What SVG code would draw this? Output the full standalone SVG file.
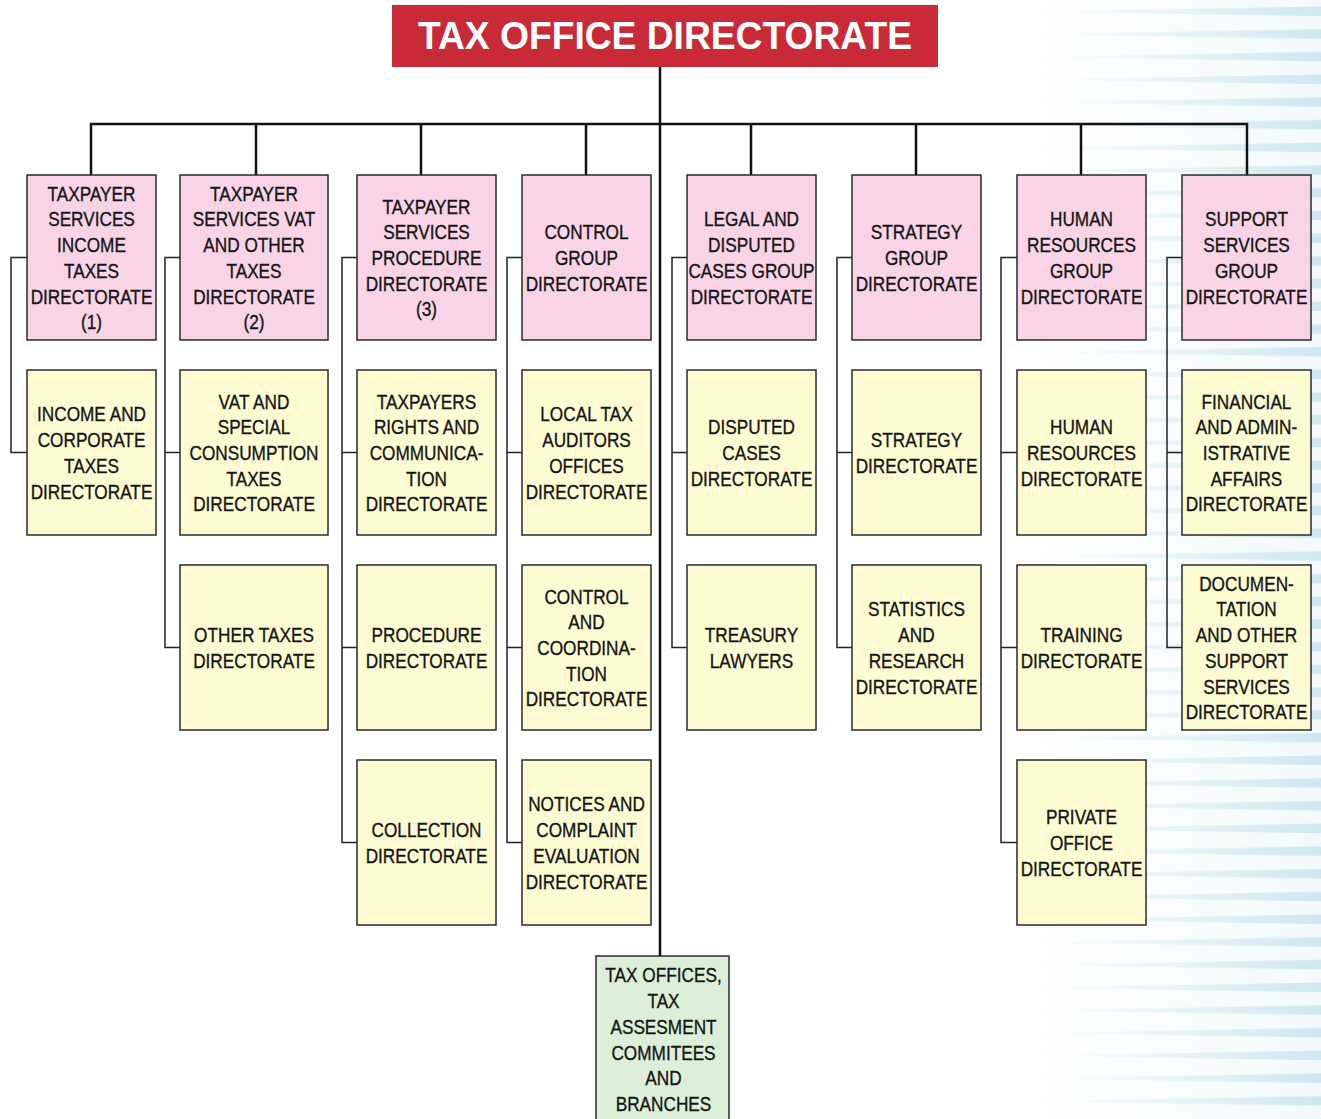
<svg xmlns="http://www.w3.org/2000/svg" width="1321" height="1119" viewBox="0 0 1321 1119">
<style>
.bx{stroke:#2a2a2a;stroke-width:1.5}
.pk{fill:#F8D4E6}
.yl{fill:#FEFBD3}
.gr{fill:#DDEFD9}
.t{font-family:"Liberation Sans",Arial,sans-serif;font-size:21px;fill:#151515;stroke:#151515;stroke-width:0.35;text-anchor:middle}
.main{stroke:#111;stroke-width:2.5;fill:none}
.side{stroke:#222;stroke-width:1.5;fill:none}
</style>
<defs>
<pattern id="stripes" x="1030" y="0" width="291" height="22.7" patternUnits="userSpaceOnUse">
<polygon points="0,11.5 291,6.5 291,16" fill="#CFE8F0"/>
</pattern>
<linearGradient id="fadeG" gradientUnits="userSpaceOnUse" x1="1030" y1="0" x2="1321" y2="0">
<stop offset="0" stop-color="#000"/>
<stop offset="0.4" stop-color="#666"/>
<stop offset="1" stop-color="#fff"/>
</linearGradient>
<mask id="fadeM" maskUnits="userSpaceOnUse" x="1000" y="0" width="321" height="1119">
<rect x="1000" y="0" width="321" height="1119" fill="url(#fadeG)"/>
</mask>
</defs>
<rect x="0" y="0" width="1321" height="1119" fill="#fff"/>
<g id="background" mask="url(#fadeM)">
<rect x="1030" y="0" width="291" height="1119" fill="#F3F9FB"/>
<rect x="1030" y="0" width="291" height="1119" fill="url(#stripes)"/>
</g>

<g id="connectors">
<path class="main" d="M660 67V956"/>
<path class="main" d="M91 175V124H1247V175"/>
<path class="main" d="M256 124V175M421 124V175M586 124V175M751 124V175M916 124V175M1081 124V175"/>
<path class="side" d="M27 257.5H11V452.5H27"/>
<path class="side" d="M180 257.5H165V647.5H180M165 452.5H180"/>
<path class="side" d="M357 257.5H342V842.5H357M342 452.5H357M342 647.5H357"/>
<path class="side" d="M522 257.5H507V842.5H522M507 452.5H522M507 647.5H522"/>
<path class="side" d="M687 257.5H672V647.5H687M672 452.5H687"/>
<path class="side" d="M852 257.5H837V647.5H852M837 452.5H852"/>
<path class="side" d="M1017 257.5H1001V842.5H1017M1001 452.5H1017M1001 647.5H1017"/>
<path class="side" d="M1182 257.5H1167V647.5H1182M1167 452.5H1182"/>
</g>

<g id="title">
<rect x="392" y="5" width="546" height="62" fill="#C82A37"/>
<text x="665" y="49" font-family="Liberation Sans,Arial,sans-serif" font-weight="bold" font-size="38" fill="#fff" text-anchor="middle" textLength="494" lengthAdjust="spacingAndGlyphs">TAX OFFICE DIRECTORATE</text>
</g>

<!-- Row 1 -->
<g id="n1_1"><rect class="bx pk" x="27" y="175" width="129" height="165"/>
<text class="t" transform="translate(91.5 0) scale(0.82 1)"><tspan x="0" y="200.75">TAXPAYER</tspan><tspan x="0" dy="25.7">SERVICES</tspan><tspan x="0" dy="25.7">INCOME</tspan><tspan x="0" dy="25.7">TAXES</tspan><tspan x="0" dy="25.7">DIRECTORATE</tspan><tspan x="0" dy="25.7">(1)</tspan></text></g>
<g id="n1_2"><rect class="bx pk" x="180" y="175" width="148" height="165"/>
<text class="t" transform="translate(254 0) scale(0.82 1)"><tspan x="0" y="200.75">TAXPAYER</tspan><tspan x="0" dy="25.7">SERVICES VAT</tspan><tspan x="0" dy="25.7">AND OTHER</tspan><tspan x="0" dy="25.7">TAXES</tspan><tspan x="0" dy="25.7">DIRECTORATE</tspan><tspan x="0" dy="25.7">(2)</tspan></text></g>
<g id="n1_3"><rect class="bx pk" x="357" y="175" width="139" height="165"/>
<text class="t" transform="translate(426.5 0) scale(0.82 1)"><tspan x="0" y="213.6">TAXPAYER</tspan><tspan x="0" dy="25.7">SERVICES</tspan><tspan x="0" dy="25.7">PROCEDURE</tspan><tspan x="0" dy="25.7">DIRECTORATE</tspan><tspan x="0" dy="25.7">(3)</tspan></text></g>
<g id="n1_4"><rect class="bx pk" x="522" y="175" width="129" height="165"/>
<text class="t" transform="translate(586.5 0) scale(0.82 1)"><tspan x="0" y="239.3">CONTROL</tspan><tspan x="0" dy="25.7">GROUP</tspan><tspan x="0" dy="25.7">DIRECTORATE</tspan></text></g>
<g id="n1_5"><rect class="bx pk" x="687" y="175" width="129" height="165"/>
<text class="t" transform="translate(751.5 0) scale(0.82 1)"><tspan x="0" y="226.45">LEGAL AND</tspan><tspan x="0" dy="25.7">DISPUTED</tspan><tspan x="0" dy="25.7">CASES GROUP</tspan><tspan x="0" dy="25.7">DIRECTORATE</tspan></text></g>
<g id="n1_6"><rect class="bx pk" x="852" y="175" width="129" height="165"/>
<text class="t" transform="translate(916.5 0) scale(0.82 1)"><tspan x="0" y="239.3">STRATEGY</tspan><tspan x="0" dy="25.7">GROUP</tspan><tspan x="0" dy="25.7">DIRECTORATE</tspan></text></g>
<g id="n1_7"><rect class="bx pk" x="1017" y="175" width="129" height="165"/>
<text class="t" transform="translate(1081.5 0) scale(0.82 1)"><tspan x="0" y="226.45">HUMAN</tspan><tspan x="0" dy="25.7">RESOURCES</tspan><tspan x="0" dy="25.7">GROUP</tspan><tspan x="0" dy="25.7">DIRECTORATE</tspan></text></g>
<g id="n1_8"><rect class="bx pk" x="1182" y="175" width="129" height="165"/>
<text class="t" transform="translate(1246.5 0) scale(0.82 1)"><tspan x="0" y="226.45">SUPPORT</tspan><tspan x="0" dy="25.7">SERVICES</tspan><tspan x="0" dy="25.7">GROUP</tspan><tspan x="0" dy="25.7">DIRECTORATE</tspan></text></g>

<!-- Row 2 -->
<g id="n2_1"><rect class="bx yl" x="27" y="370" width="129" height="165"/>
<text class="t" transform="translate(91.5 0) scale(0.82 1)"><tspan x="0" y="421.45">INCOME AND</tspan><tspan x="0" dy="25.7">CORPORATE</tspan><tspan x="0" dy="25.7">TAXES</tspan><tspan x="0" dy="25.7">DIRECTORATE</tspan></text></g>
<g id="n2_2"><rect class="bx yl" x="180" y="370" width="148" height="165"/>
<text class="t" transform="translate(254 0) scale(0.82 1)"><tspan x="0" y="408.6">VAT AND</tspan><tspan x="0" dy="25.7">SPECIAL</tspan><tspan x="0" dy="25.7">CONSUMPTION</tspan><tspan x="0" dy="25.7">TAXES</tspan><tspan x="0" dy="25.7">DIRECTORATE</tspan></text></g>
<g id="n2_3"><rect class="bx yl" x="357" y="370" width="139" height="165"/>
<text class="t" transform="translate(426.5 0) scale(0.82 1)"><tspan x="0" y="408.6">TAXPAYERS</tspan><tspan x="0" dy="25.7">RIGHTS AND</tspan><tspan x="0" dy="25.7">COMMUNICA-</tspan><tspan x="0" dy="25.7">TION</tspan><tspan x="0" dy="25.7">DIRECTORATE</tspan></text></g>
<g id="n2_4"><rect class="bx yl" x="522" y="370" width="129" height="165"/>
<text class="t" transform="translate(586.5 0) scale(0.82 1)"><tspan x="0" y="421.45">LOCAL TAX</tspan><tspan x="0" dy="25.7">AUDITORS</tspan><tspan x="0" dy="25.7">OFFICES</tspan><tspan x="0" dy="25.7">DIRECTORATE</tspan></text></g>
<g id="n2_5"><rect class="bx yl" x="687" y="370" width="129" height="165"/>
<text class="t" transform="translate(751.5 0) scale(0.82 1)"><tspan x="0" y="434.3">DISPUTED</tspan><tspan x="0" dy="25.7">CASES</tspan><tspan x="0" dy="25.7">DIRECTORATE</tspan></text></g>
<g id="n2_6"><rect class="bx yl" x="852" y="370" width="129" height="165"/>
<text class="t" transform="translate(916.5 0) scale(0.82 1)"><tspan x="0" y="447.15">STRATEGY</tspan><tspan x="0" dy="25.7">DIRECTORATE</tspan></text></g>
<g id="n2_7"><rect class="bx yl" x="1017" y="370" width="129" height="165"/>
<text class="t" transform="translate(1081.5 0) scale(0.82 1)"><tspan x="0" y="434.3">HUMAN</tspan><tspan x="0" dy="25.7">RESOURCES</tspan><tspan x="0" dy="25.7">DIRECTORATE</tspan></text></g>
<g id="n2_8"><rect class="bx yl" x="1182" y="370" width="129" height="165"/>
<text class="t" transform="translate(1246.5 0) scale(0.82 1)"><tspan x="0" y="408.6">FINANCIAL</tspan><tspan x="0" dy="25.7">AND ADMIN-</tspan><tspan x="0" dy="25.7">ISTRATIVE</tspan><tspan x="0" dy="25.7">AFFAIRS</tspan><tspan x="0" dy="25.7">DIRECTORATE</tspan></text></g>

<!-- Row 3 -->
<g id="n3_2"><rect class="bx yl" x="180" y="565" width="148" height="165"/>
<text class="t" transform="translate(254 0) scale(0.82 1)"><tspan x="0" y="642.15">OTHER TAXES</tspan><tspan x="0" dy="25.7">DIRECTORATE</tspan></text></g>
<g id="n3_3"><rect class="bx yl" x="357" y="565" width="139" height="165"/>
<text class="t" transform="translate(426.5 0) scale(0.82 1)"><tspan x="0" y="642.15">PROCEDURE</tspan><tspan x="0" dy="25.7">DIRECTORATE</tspan></text></g>
<g id="n3_4"><rect class="bx yl" x="522" y="565" width="129" height="165"/>
<text class="t" transform="translate(586.5 0) scale(0.82 1)"><tspan x="0" y="603.6">CONTROL</tspan><tspan x="0" dy="25.7">AND</tspan><tspan x="0" dy="25.7">COORDINA-</tspan><tspan x="0" dy="25.7">TION</tspan><tspan x="0" dy="25.7">DIRECTORATE</tspan></text></g>
<g id="n3_5"><rect class="bx yl" x="687" y="565" width="129" height="165"/>
<text class="t" transform="translate(751.5 0) scale(0.82 1)"><tspan x="0" y="642.15">TREASURY</tspan><tspan x="0" dy="25.7">LAWYERS</tspan></text></g>
<g id="n3_6"><rect class="bx yl" x="852" y="565" width="129" height="165"/>
<text class="t" transform="translate(916.5 0) scale(0.82 1)"><tspan x="0" y="616.45">STATISTICS</tspan><tspan x="0" dy="25.7">AND</tspan><tspan x="0" dy="25.7">RESEARCH</tspan><tspan x="0" dy="25.7">DIRECTORATE</tspan></text></g>
<g id="n3_7"><rect class="bx yl" x="1017" y="565" width="129" height="165"/>
<text class="t" transform="translate(1081.5 0) scale(0.82 1)"><tspan x="0" y="642.15">TRAINING</tspan><tspan x="0" dy="25.7">DIRECTORATE</tspan></text></g>
<g id="n3_8"><rect class="bx yl" x="1182" y="565" width="129" height="165"/>
<text class="t" transform="translate(1246.5 0) scale(0.82 1)"><tspan x="0" y="590.75">DOCUMEN-</tspan><tspan x="0" dy="25.7">TATION</tspan><tspan x="0" dy="25.7">AND OTHER</tspan><tspan x="0" dy="25.7">SUPPORT</tspan><tspan x="0" dy="25.7">SERVICES</tspan><tspan x="0" dy="25.7">DIRECTORATE</tspan></text></g>

<!-- Row 4 -->
<g id="n4_3"><rect class="bx yl" x="357" y="760" width="139" height="165"/>
<text class="t" transform="translate(426.5 0) scale(0.82 1)"><tspan x="0" y="837.15">COLLECTION</tspan><tspan x="0" dy="25.7">DIRECTORATE</tspan></text></g>
<g id="n4_4"><rect class="bx yl" x="522" y="760" width="129" height="165"/>
<text class="t" transform="translate(586.5 0) scale(0.82 1)"><tspan x="0" y="811.45">NOTICES AND</tspan><tspan x="0" dy="25.7">COMPLAINT</tspan><tspan x="0" dy="25.7">EVALUATION</tspan><tspan x="0" dy="25.7">DIRECTORATE</tspan></text></g>
<g id="n4_7"><rect class="bx yl" x="1017" y="760" width="129" height="165"/>
<text class="t" transform="translate(1081.5 0) scale(0.82 1)"><tspan x="0" y="824.3">PRIVATE</tspan><tspan x="0" dy="25.7">OFFICE</tspan><tspan x="0" dy="25.7">DIRECTORATE</tspan></text></g>

<!-- Bottom -->
<g id="tax_offices"><rect class="bx gr" x="596" y="956" width="133" height="175"/>
<text class="t" transform="translate(663.5 0) scale(0.82 1)"><tspan x="0" y="982.5">TAX OFFICES,</tspan><tspan x="0" dy="25.7">TAX</tspan><tspan x="0" dy="25.7">ASSESMENT</tspan><tspan x="0" dy="25.7">COMMITEES</tspan><tspan x="0" dy="25.7">AND</tspan><tspan x="0" dy="25.7">BRANCHES</tspan></text></g>
</svg>
